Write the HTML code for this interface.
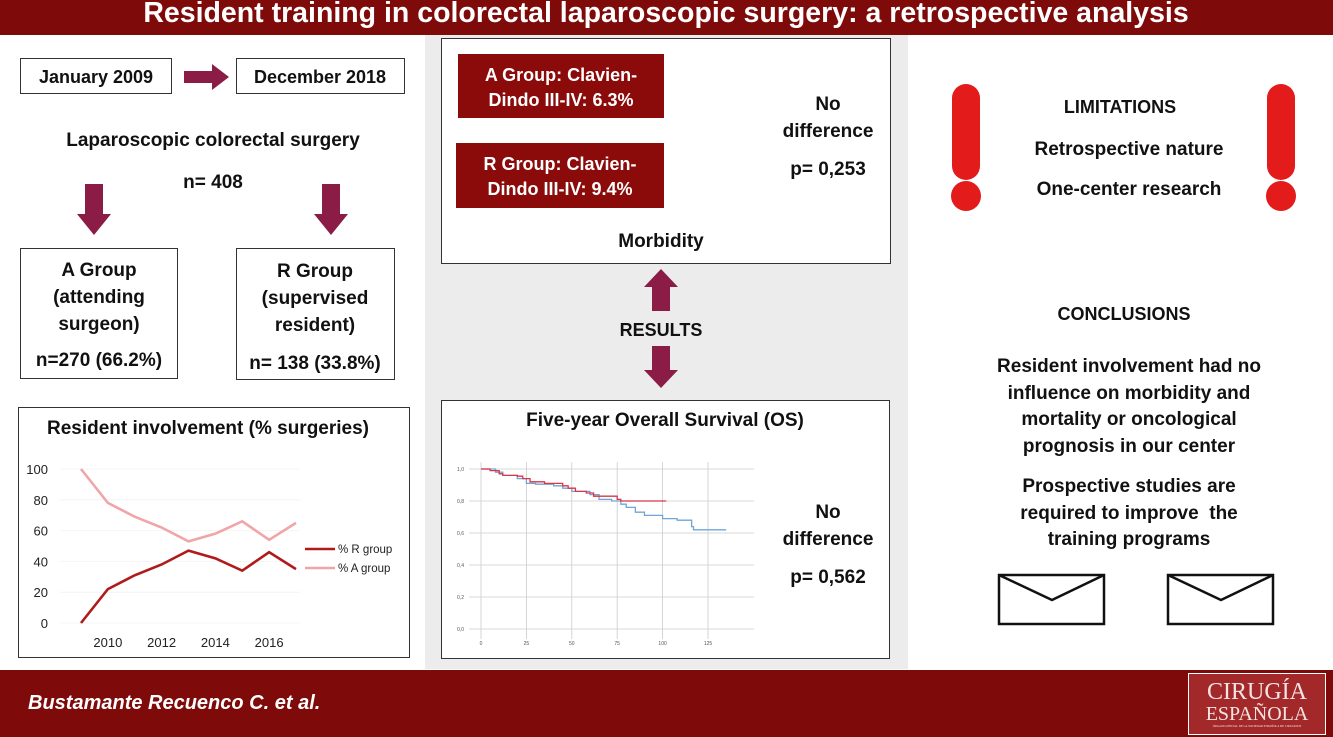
<!DOCTYPE html>
<html><head><meta charset="utf-8"><style>
body{margin:0;width:1333px;height:737px;position:relative;background:#fff;font-family:"Liberation Sans",sans-serif;overflow:hidden}
.a{position:absolute}
.t{position:absolute;font-weight:bold;color:#111;font-size:19px;text-align:center;white-space:nowrap;transform:translateX(-50%)}
.box{position:absolute;border:1.5px solid #333;background:#fff;box-sizing:border-box}
.rb{position:absolute;background:#8b0a0a;color:#fff;font-weight:bold;font-size:18px;text-align:center;line-height:25px;box-sizing:border-box;padding-top:9px}
</style></head><body>
<div class="a" style="left:0;top:0;width:1333px;height:35px;background:#7e0a0a"></div>
<div class="t" style="left:666px;top:-3px;color:#fff;font-size:28.5px">Resident training in colorectal laparoscopic surgery: a retrospective analysis</div>
<div class="a" style="left:425px;top:35px;width:483px;height:634px;background:#ececec"></div>

<div class="box" style="left:20px;top:58px;width:152px;height:36px"></div>
<div class="t" style="left:96px;top:67px;font-size:18px">January 2009</div>
<svg class="a" style="left:184px;top:64px" width="46" height="26"><polygon points="0,7 28,7 28,0 45,13 28,26 28,19 0,19" fill="#8a1c45"/></svg>
<div class="box" style="left:236px;top:58px;width:169px;height:36px"></div>
<div class="t" style="left:320px;top:67px;font-size:18px">December 2018</div>
<div class="t" style="left:213px;top:130px">Laparoscopic colorectal surgery</div>
<div class="t" style="left:213px;top:172px">n= 408</div>
<svg class="a" style="left:76px;top:184px" width="36" height="52"><polygon points="9,0 27,0 27,30 35,30 18,51 1,30 9,30" fill="#8a1c45"/></svg>
<svg class="a" style="left:313px;top:184px" width="36" height="52"><polygon points="9,0 27,0 27,30 35,30 18,51 1,30 9,30" fill="#8a1c45"/></svg>
<div class="box" style="left:20px;top:248px;width:158px;height:131px"></div>
<div class="t" style="left:99px;top:257px;line-height:27px">A Group<br>(attending<br>surgeon)</div>
<div class="t" style="left:99px;top:350px">n=270 (66.2%)</div>
<div class="box" style="left:236px;top:248px;width:159px;height:132px"></div>
<div class="t" style="left:315px;top:258px;line-height:27px">R Group<br>(supervised<br>resident)</div>
<div class="t" style="left:315px;top:353px">n= 138 (33.8%)</div>

<div class="box" style="left:18px;top:407px;width:392px;height:251px"></div>
<div class="t" style="left:208px;top:418px">Resident involvement (% surgeries)</div>
<svg class="a" id="lc" style="left:0;top:440px" width="420" height="215"></svg>

<div class="box" style="left:441px;top:38px;width:450px;height:226px"></div>
<div class="rb" style="left:458px;top:54px;width:206px;height:64px">A Group: Clavien-<br>Dindo III-IV: 6.3%</div>
<div class="rb" style="left:456px;top:143px;width:208px;height:65px">R Group: Clavien-<br>Dindo III-IV: 9.4%</div>
<div class="t" style="left:828px;top:91px;line-height:27px">No<br>difference</div>
<div class="t" style="left:828px;top:159px">p= 0,253</div>
<div class="t" style="left:661px;top:231px">Morbidity</div>
<svg class="a" style="left:643px;top:269px" width="36" height="42"><polygon points="18,0 35,18 27,18 27,42 9,42 9,18 1,18" fill="#8a1c45"/></svg>
<div class="t" style="left:661px;top:320px;font-size:18px">RESULTS</div>
<svg class="a" style="left:643px;top:346px" width="36" height="43"><polygon points="9,0 27,0 27,24 35,24 18,42 1,24 9,24" fill="#8a1c45"/></svg>
<div class="box" style="left:441px;top:400px;width:449px;height:259px"></div>
<div class="t" style="left:665px;top:410px">Five-year Overall Survival (OS)</div>
<svg class="a" id="km" style="left:449px;top:452px;background:#fff" width="308" height="200"></svg>
<div class="t" style="left:828px;top:499px;line-height:27px">No<br>difference</div>
<div class="t" style="left:828px;top:567px">p= 0,562</div>

<svg class="a" style="left:948px;top:82px" width="36" height="132"><rect x="4" y="2" width="28" height="96" rx="14" fill="#e31b1b"/><circle cx="18" cy="114" r="15" fill="#e31b1b"/></svg>
<svg class="a" style="left:1263px;top:82px" width="36" height="132"><rect x="4" y="2" width="28" height="96" rx="14" fill="#e31b1b"/><circle cx="18" cy="114" r="15" fill="#e31b1b"/></svg>
<div class="t" style="left:1120px;top:97px;font-size:18px">LIMITATIONS</div>
<div class="t" style="left:1129px;top:139px">Retrospective nature</div>
<div class="t" style="left:1129px;top:179px">One-center research</div>
<div class="t" style="left:1124px;top:304px;font-size:18px">CONCLUSIONS</div>
<div class="t" style="left:1129px;top:354px;line-height:26.5px">Resident involvement had no<br>influence on morbidity and<br>mortality or oncological<br>prognosis in our center</div>
<div class="t" style="left:1129px;top:474px;line-height:26.5px">Prospective studies are<br>required to improve&nbsp; the<br>training programs</div>
<svg class="a" style="left:997px;top:573px" width="110" height="53"><rect x="2" y="2" width="105" height="49" fill="#fff" stroke="#111" stroke-width="2.5"/><polyline points="2,2 55,27 107,2" fill="none" stroke="#111" stroke-width="2.5"/></svg>
<svg class="a" style="left:1166px;top:573px" width="110" height="53"><rect x="2" y="2" width="105" height="49" fill="#fff" stroke="#111" stroke-width="2.5"/><polyline points="2,2 55,27 107,2" fill="none" stroke="#111" stroke-width="2.5"/></svg>

<div class="a" style="left:0;top:670px;width:1333px;height:67px;background:#7e0a0a"></div>
<div class="a" style="left:28px;top:692px;color:#fff;font-size:20px;font-weight:bold;font-style:italic">Bustamante Recuenco C. et al.</div>
<div class="a" style="left:1188px;top:673px;width:138px;height:62px;background:#a3282a;border:1px solid #fff;box-sizing:border-box;color:#f3e3e3;font-family:'Liberation Serif',serif;text-align:center">
<div style="font-size:24px;line-height:24px;margin-top:6px">CIRUGÍA</div><div style="font-size:20px;line-height:20px">ESPAÑOLA</div><div style="font-size:3px">ÓRGANO OFICIAL DE LA SOCIEDAD ESPAÑOLA DE CIRUJANOS</div></div>

<script>
const years=[2009,2010,2011,2012,2013,2014,2015,2016,2017];
const rGroup=[0,22,31,38,47,42,34,46,35];
const aGroup=[100,78,69,62,53,58,66,54,65];
const yTicks=[0,20,40,60,80,100];
const xTicks=[2010,2012,2014,2016];
const kmTimeTicks=[0,25,50,75,100,125];
const kmSurvTicks=[0,0.2,0.4,0.6,0.8,1.0];
const kmSurvLabels=["0,0","0,2","0,4","0,6","0,8","1,0"];
const redTime=[0,5,10,12,20,23,27,35,45,48,52,58,62,72,75,77,102];
const redSurv=[1,0.99,0.97,0.96,0.955,0.94,0.92,0.91,0.895,0.88,0.86,0.85,0.83,0.83,0.81,0.80,0.80];
const blueTime=[0,8,12,20,25,30,40,45,50,60,65,72,77,80,85,90,100,108,116,117,135];
const blueSurv=[1,0.98,0.96,0.94,0.91,0.905,0.895,0.88,0.86,0.84,0.81,0.80,0.78,0.76,0.73,0.71,0.69,0.68,0.64,0.62,0.62];
const NS="http://www.w3.org/2000/svg";
function mk(p,tag,at){const e=document.createElementNS(NS,tag);for(const k in at)e.setAttribute(k,at[k]);p.appendChild(e);return e;}
const lc=document.getElementById('lc');
const X=y=>81+(y-2009)*(296-81)/8, Y=v=>183-v*1.54;
yTicks.forEach(v=>{const g=mk(lc,'line',{x1:60,x2:300,y1:Y(v),y2:Y(v),stroke:'#f4f4f4'});

const t=mk(lc,'text',{x:48,y:Y(v)+5,'text-anchor':'end','font-size':13,fill:'#222','font-family':'Liberation Sans'});t.textContent=v;
});
xTicks.forEach(v=>{const t=mk(lc,'text',{x:X(v),y:207,'text-anchor':'middle','font-size':13,fill:'#222','font-family':'Liberation Sans'});t.textContent=v;
});
[[aGroup,'#f0a5a8','a-group-line'],[rGroup,'#b01a1a','r-group-line']].forEach(([d,c,n])=>{
const p=mk(lc,'polyline',{points:d.map((v,i)=>X(years[i])+','+Y(v)).join(' '),fill:'none',stroke:c,'stroke-width':2.6});
});
[['% R group','#b01a1a',109],['% A group','#f0a5a8',128]].forEach(([l,c,y])=>{
const g=mk(lc,'line',{x1:305,x2:335,y1:y,y2:y,stroke:c,'stroke-width':2.6});

const t=mk(lc,'text',{x:338,y:y+4,'font-size':11.5,fill:'#222','font-family':'Liberation Sans'});t.textContent=l;
});
const km=document.getElementById('km');
const KX=t=>32+t*(227/125), KY=s=>177-s*160;
kmSurvTicks.forEach((s,i)=>{const g=mk(km,'line',{x1:20,x2:305,y1:KY(s),y2:KY(s),stroke:'#ccc','stroke-width':0.8});

const t=mk(km,'text',{x:15,y:KY(s)+2,'text-anchor':'end','font-size':5,fill:'#555','font-family':'Liberation Sans'});t.textContent=kmSurvLabels[i];
});
kmTimeTicks.forEach(v=>{const g=mk(km,'line',{x1:KX(v),x2:KX(v),y1:10,y2:187,stroke:'#ccc','stroke-width':0.8});

const t=mk(km,'text',{x:KX(v),y:193,'text-anchor':'middle','font-size':5,fill:'#555','font-family':'Liberation Sans'});t.textContent=v;
});
[[blueTime,blueSurv,'#6fa6d6','km-blue-curve'],[redTime,redSurv,'#d9364a','km-red-curve']].forEach(([T,S,c,n])=>{
let pts=[];T.forEach((t,i)=>{if(i>0)pts.push(KX(t)+','+KY(S[i-1]));pts.push(KX(t)+','+KY(S[i]));});
const p=mk(km,'polyline',{points:pts.join(' '),fill:'none',stroke:c,'stroke-width':1.3});
});
</script>
</body></html>
